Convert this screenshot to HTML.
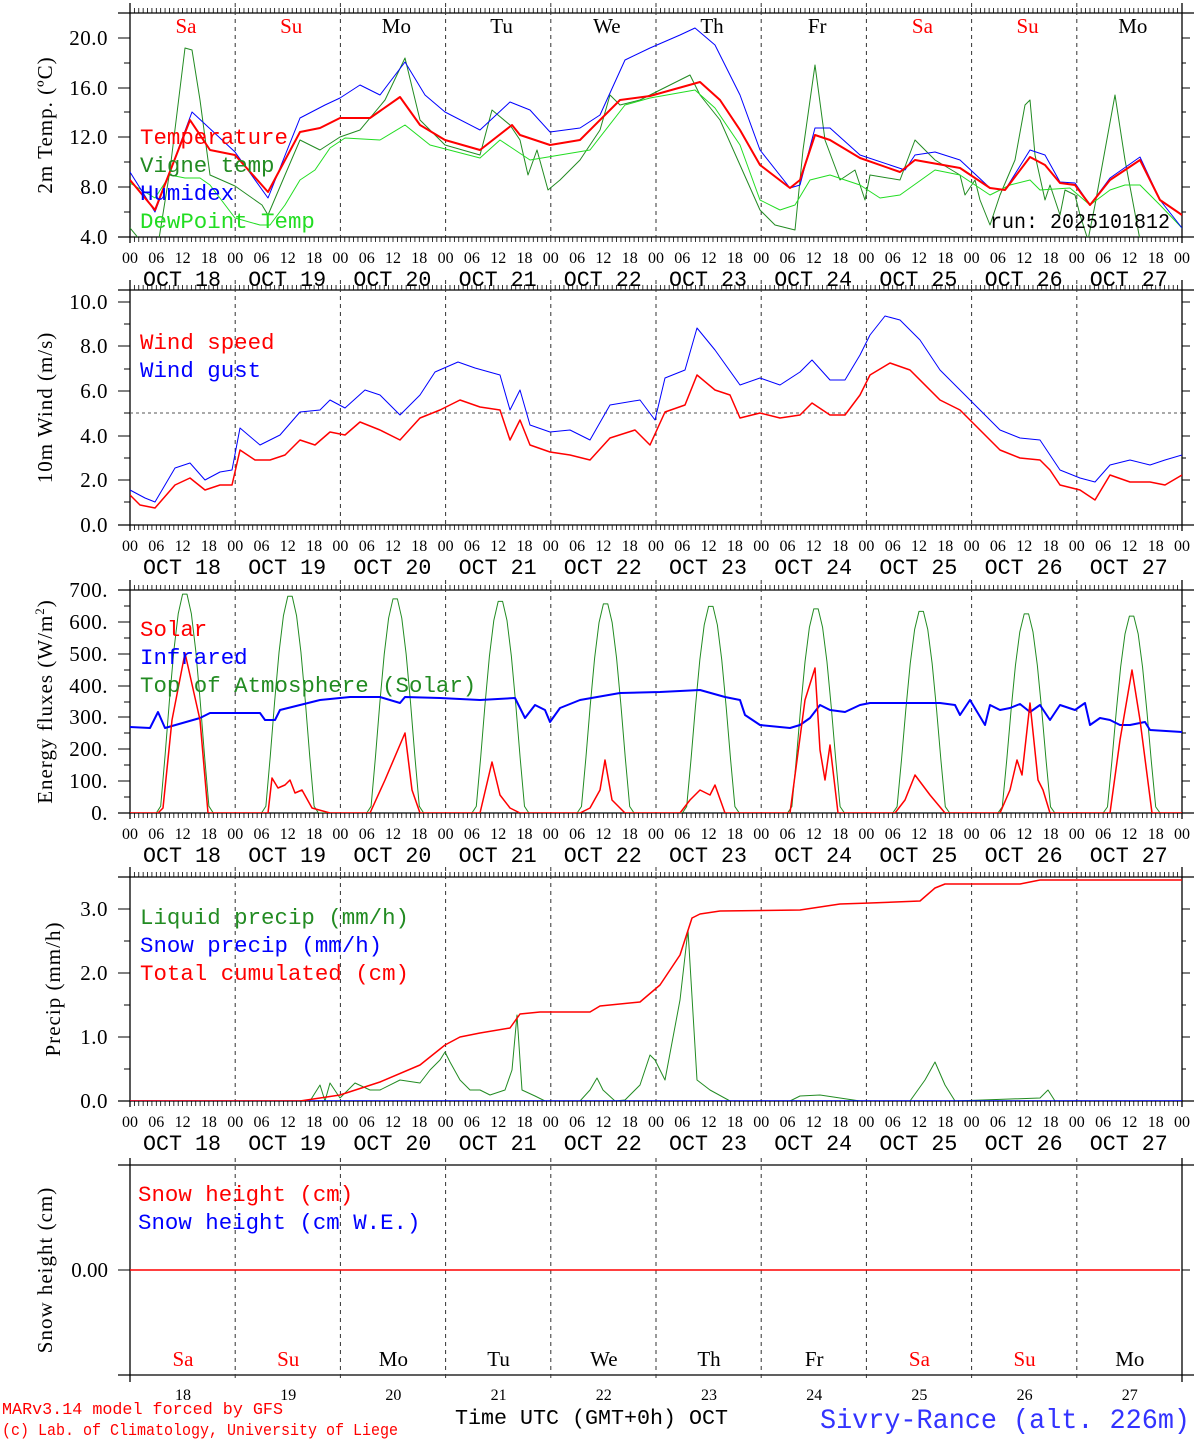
<!DOCTYPE html>
<html><head><meta charset="utf-8"><style>
html,body{margin:0;padding:0;background:#fff;width:1194px;height:1440px;overflow:hidden}
svg text{font-family:"Liberation Serif",serif}
svg text.m{font-family:"Liberation Mono",monospace}
</style></head><body>
<svg id="s" width="1194" height="1440" viewBox="0 0 1194 1440" xmlns="http://www.w3.org/2000/svg"></svg>
<script>
var S=document.getElementById('s'),h='';
var X0=130,X1=1182,DW=105.2;
function ln(a,b,c,d,col,w,da){h+='<line x1="'+a+'" y1="'+b+'" x2="'+c+'" y2="'+d+'" stroke="'+(col||'#000')+'" stroke-width="'+(w||1)+'"'+(da?' stroke-dasharray="'+da+'"':'')+'/>';}
function tx(x,y,s,size,col,anc,extra){h+='<text x="'+x+'" y="'+y+'" font-size="'+size+'" fill="'+(col||'#000')+'" text-anchor="'+(anc||'start')+'" '+(extra||'')+'>'+s+'</text>';}
function lg(x,y,s,col){tx(x,y,s,22,col,'start','class="m" textLength="'+(s.length*13.45)+'" lengthAdjust="spacingAndGlyphs"');}
function pl(pts,col,w){var s='';for(var i=0;i<pts.length;i+=2)s+=pts[i]+','+pts[i+1]+' ';h+='<polyline points="'+s+'" fill="none" stroke="'+col+'" stroke-width="'+(w||1)+'" stroke-linejoin="round"/>';}
var days=['Sa','Su','Mo','Tu','We','Th','Fr','Sa','Su','Mo'],dcol=['red','red','#000','#000','#000','#000','#000','red','red','#000'];
function frame(top,bot,ticks,minor,label,lx,hours){
  h+='<clipPath id="c'+top+'"><rect x="130" y="'+top+'" width="1052" height="'+(bot-top)+'"/></clipPath>';
  ln(118,top,1194,top,'#000',1.3);ln(118,bot,1194,bot,'#000',1.3);
  ln(X0,top-10,X0,bot+6,'#000',1.3);ln(X1,top-10,X1,bot+6,'#000',1.3);
  for(var i=0;i<=240;i++){var x=X0+i*1052/240;ln(x,top-5,x,top,'#000',0.8);if(hours)ln(x,bot,x,bot+5,'#000',0.8);}
  for(var d=1;d<10;d++){var x=X0+d*DW;ln(x,top-10,x,bot,'#333',1,'4,4');}
  ticks.forEach(function(t){ln(118,t[0],X0,t[0],'#000',1);ln(X1,t[0],1190,t[0],'#000',1);tx(108,t[0]+7,t[1],21,'#000','end','letter-spacing="0.5"');});
  minor.forEach(function(y){ln(124,y,X0,y,'#000',1);ln(X1,y,1186,y,'#000',1);});
  tx(lx,(top+bot)/2,label,21,'#000','middle','letter-spacing="1" transform="rotate(-90 '+lx+' '+(top+bot)/2+')"');
  if(hours){for(var i=0;i<=40;i++){var x=X0+i*1052/40;tx(x,bot+26,['00','06','12','18'][i%4],16,'#000','middle');}
   for(var d=0;d<10;d++)tx(X0+d*DW+52,bot+49,'OCT  '+(18+d),22,'#000','middle','class="m" textLength="78" lengthAdjust="spacingAndGlyphs"');}
}
// Panel 1
frame(13,237,[[38,'20.0'],[88,'16.0'],[137,'12.0'],[187,'8.0'],[237,'4.0']],[63,112,162,212],'2m Temp. (ºC)',52,true);
for(var d=0;d<10;d++)tx(X0+d*DW+56,33,days[d],21,dcol[d],'middle');
h+='<g clip-path="url(#c13)">';
pl([130,228,140,240,158,245,170,170,185,48,192,50,200,100,210,175,235,186,262,205,268,215,285,175,300,140,320,150,340,137,360,130,385,100,405,58,420,120,445,145,480,155,492,110,510,125,520,140,528,175,537,150,548,190,560,180,580,160,600,130,610,95,620,105,640,100,680,80,690,75,700,95,720,120,740,165,760,210,775,225,795,230,803,150,815,65,825,140,840,180,855,170,865,200,870,175,900,180,915,140,935,160,960,175,965,195,975,180,980,200,990,225,995,210,1000,195,1015,160,1025,105,1030,100,1035,155,1045,200,1050,185,1060,215,1065,190,1075,195,1080,215,1088,240,1095,205,1105,150,1115,95,1125,160,1140,240],'#228B22',1);
pl([130,183,155,198,170,175,185,178,200,178,210,185,235,218,260,225,270,225,285,205,300,180,315,170,330,148,345,138,380,140,405,125,430,145,480,158,500,140,530,160,560,155,590,150,625,105,650,98,695,90,715,108,740,145,760,200,780,210,795,205,810,180,830,175,860,185,880,198,900,195,935,170,960,175,990,195,1010,185,1030,180,1040,190,1070,188,1090,205,1110,190,1125,185,1140,185,1160,205,1182,228],'#22dd22',1);
pl([130,172,155,212,192,112,235,152,268,198,300,118,325,105,340,98,360,85,380,95,405,62,425,95,445,112,480,130,510,102,530,110,550,132,580,128,600,115,625,60,650,48,680,35,695,28,715,45,740,95,760,150,790,188,800,185,815,128,830,128,860,155,905,170,915,155,935,152,960,160,990,188,1005,190,1030,150,1045,155,1060,182,1075,183,1090,205,1110,178,1140,157,1160,200,1182,228],'#0000ff',1);
pl([130,180,155,210,190,120,210,150,235,155,268,192,300,132,320,128,340,118,370,118,400,97,420,125,445,140,480,150,512,125,520,135,550,145,580,140,620,100,650,96,700,82,720,100,740,130,760,165,790,188,800,180,815,135,830,140,860,158,900,172,915,160,960,168,990,188,1005,190,1030,157,1045,165,1060,183,1075,185,1090,205,1110,180,1140,160,1160,200,1182,215],'#ff0000',2);
h+='</g>';
lg(140,144,'Temperature','red');
lg(140,172,'Vigne temp','#228B22');
lg(140,200,'Humidex','blue');
lg(140,228,'DewPoint Temp','#22dd22');
tx(1170,228,'run: 2025101812',21,'#000','end','class="m" textLength="180" lengthAdjust="spacingAndGlyphs"');
// Panel 2
frame(290,525,[[302,'10.0'],[346,'8.0'],[391,'6.0'],[436,'4.0'],[480,'2.0'],[525,'0.0']],[324,369,413,458,502],'10m Wind (m/s)',52,true);
ln(130,413,1182,413,'#555',1,'3,3');
h+='<g clip-path="url(#c290)">';
pl([130,490,145,498,155,502,175,468,190,463,205,480,220,472,232,470,240,428,260,445,280,435,300,412,320,410,330,400,345,408,365,390,380,395,400,415,420,395,435,372,458,362,475,368,500,375,510,410,520,390,530,425,550,432,570,430,590,440,610,405,640,400,655,420,665,378,685,370,697,328,715,350,740,385,760,378,780,385,800,372,812,360,830,380,845,380,860,355,870,335,885,316,900,320,920,340,940,370,960,390,980,410,1000,430,1020,438,1040,440,1050,455,1060,470,1080,478,1095,482,1110,465,1130,460,1150,465,1165,460,1182,455],'#0000ff',1);
pl([130,495,140,505,155,508,175,485,190,478,205,490,220,485,232,485,240,450,255,460,270,460,285,455,300,440,315,445,330,432,345,435,360,422,380,430,400,440,420,418,440,410,460,400,480,407,500,410,510,440,520,420,530,445,550,452,570,455,590,460,610,438,635,430,650,445,665,412,685,405,697,375,715,390,730,395,740,418,760,413,780,418,800,415,812,403,830,415,845,415,860,395,870,375,890,363,910,370,940,400,960,410,980,430,1000,450,1020,458,1040,460,1050,470,1060,485,1080,490,1095,500,1110,475,1130,482,1150,482,1165,485,1182,475],'#ff0000',1.5);
h+='</g>';
lg(140,349,'Wind speed','red');
lg(140,377,'Wind gust','blue');
// Panel 3
var y3=function(v){return 813-v*0.3186;};
frame(590,813,[[590,'700.'],[622,'600.'],[654,'500.'],[686,'400.'],[717,'300.'],[749,'200.'],[781,'100.'],[813,'0.']],[606,638,670,702,733,765,797],'Energy fluxes (W/m<tspan font-size="13" dy="-8">2</tspan><tspan dy="8">)</tspan>',52,true);
h+='<g clip-path="url(#c590)">';
var toa=[],pk=[695,688,680,672,664,656,648,640,632,625];
for(var d=0;d<10;d++){for(var hh=0;hh<24;hh++){var hr=d*24+hh,v=0,p=(hh-6.8)/(18.2-6.8);if(p>0&&p<1)v=pk[d]*Math.pow(Math.sin(Math.PI*p),1.2);toa.push(X0+hr*1052/240,y3(v));}}
toa.push(X1,813);pl(toa,'#228B22',1);
pl([130,727,150,728,158,712,165,728,200,718,210,713,260,713,265,720,275,720,280,710,300,705,320,700,350,697,380,697,400,703,405,697,440,698,480,700,515,698,525,718,535,705,545,710,550,722,560,708,580,700,620,693,660,692,700,690,725,697,740,700,745,715,760,725,790,728,800,725,810,718,820,705,830,710,845,712,860,705,870,703,900,703,940,703,955,705,960,715,970,700,985,725,990,705,1000,710,1010,708,1020,704,1030,712,1040,705,1050,720,1060,705,1075,710,1085,703,1090,725,1100,718,1110,720,1120,725,1130,725,1145,722,1150,730,1182,732],'#0000ff',2);
pl([130,813,158,813,163,808,172,720,185,653,200,720,208,813,268,813,272,778,278,788,285,785,290,780,295,793,302,790,312,808,330,813,370,813,385,780,405,733,412,790,420,813,480,813,492,762,500,795,510,808,520,813,580,813,590,808,600,790,605,760,612,800,625,813,680,813,690,800,700,790,710,795,715,785,725,813,790,813,805,700,815,668,820,750,825,780,830,745,838,813,895,813,905,800,915,775,930,795,945,813,1000,813,1010,790,1017,760,1022,775,1030,703,1038,780,1043,790,1050,813,1110,813,1120,740,1132,670,1140,720,1152,813,1182,813],'#ff0000',1.5);
h+='</g>';
lg(140,636,'Solar','red');
lg(140,664,'Infrared','blue');
lg(140,692,'Top of Atmosphere (Solar)','#228B22');
// Panel 4
frame(877,1101,[[909,'3.0'],[973,'2.0'],[1037,'1.0'],[1101,'0.0']],[941,1005,1069],'Precip (mm/h)',60,true);
h+='<g clip-path="url(#c877)">';
pl([130,1101,310,1101,320,1085,325,1101,330,1083,340,1098,355,1083,370,1090,380,1090,400,1080,420,1083,430,1070,440,1060,445,1052,450,1062,460,1080,470,1090,480,1090,490,1095,505,1090,512,1070,517,1015,522,1090,535,1096,545,1101,580,1101,590,1090,597,1078,603,1090,615,1101,625,1100,640,1085,650,1055,655,1060,665,1080,680,1000,688,930,697,1080,710,1090,730,1101,790,1101,800,1096,820,1095,840,1098,860,1101,910,1101,925,1080,935,1062,945,1085,955,1101,1040,1098,1048,1090,1055,1101,1182,1101],'#228B22',1);
ln(130,1101,1182,1101,'blue',1.5);
pl([130,1101,300,1101,320,1098,340,1095,380,1082,420,1065,445,1045,460,1037,480,1033,510,1028,520,1014,540,1012,590,1012,600,1006,640,1002,660,985,680,955,692,918,700,914,720,911,800,910,840,904,870,903,920,901,935,888,945,884,1020,884,1040,880,1182,880],'#ff0000',1.5);
h+='</g>';
lg(140,924,'Liquid precip (mm/h)','#228B22');
lg(140,952,'Snow precip (mm/h)','blue');
lg(140,980,'Total cumulated (cm)','red');
// Panel 5
ln(118,1165,1194,1165,'#000',1.3);ln(118,1375,1194,1375,'#000',1.3);
ln(X0,1158,X0,1382,'#000',1.3);ln(X1,1158,X1,1382,'#000',1.3);
for(var d=1;d<10;d++){var x=X0+d*DW;ln(x,1158,x,1382,'#333',1,'4,4');}
ln(118,1270,X0,1270,'#000',1);ln(X1,1270,1190,1270,'#000',1);
ln(130,1270,1180,1270,'red',1.5);
tx(108,1277,'0.00',21,'#000','end');
tx(52,1270,'Snow height (cm)',21,'#000','middle','letter-spacing="1" transform="rotate(-90 52 1270)"');
lg(138,1201,'Snow height (cm)','red');
lg(138,1229,'Snow height (cm W.E.)','blue');
for(var d=0;d<10;d++){tx(X0+d*DW+53,1366,days[d],21,dcol[d],'middle');tx(X0+d*DW+53,1400,''+(18+d),16,'#000','middle');}
tx(2,1414,'MARv3.14 model forced by GFS',17,'red','start','class="m" textLength="281" lengthAdjust="spacingAndGlyphs"');
tx(2,1435,'(c) Lab. of Climatology, University of Liege',17,'red','start','class="m" textLength="396" lengthAdjust="spacingAndGlyphs"');
tx(455,1424,'Time UTC (GMT+0h) OCT',21,'#000','start','class="m" textLength="273" lengthAdjust="spacingAndGlyphs"');
tx(1190,1428,'Sivry-Rance (alt. 226m)',28,'#3333ff','end','class="m" textLength="370" lengthAdjust="spacingAndGlyphs"');
S.innerHTML=h;
</script>
</body></html>
